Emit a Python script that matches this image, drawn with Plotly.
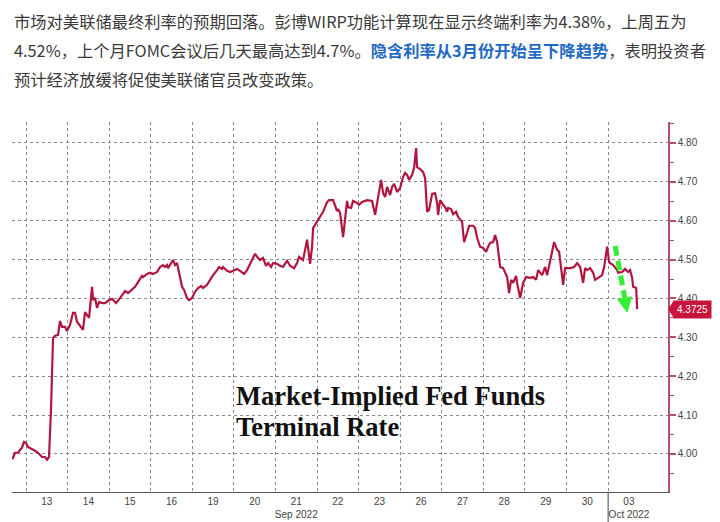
import plotly.graph_objects as go

# ---- data -------------------------------------------------------------
# trading-day position (0 = start of Sep 13 session, weekends removed)
t = [-0.337, -0.313, -0.265, -0.192, -0.144, -0.096, -0.048, 0.000, 0.048, 0.144,
     0.217, 0.289, 0.385, 0.457, 0.505, 0.553, 0.601, 0.650, 0.698, 0.770,
     0.818, 0.866, 0.938, 0.986, 1.058, 1.131, 1.179, 1.227, 1.299, 1.371,
     1.419, 1.467, 1.516, 1.588, 1.612, 1.660, 1.708, 1.756, 1.828, 1.900,
     1.973, 2.069, 2.165, 2.261, 2.382, 2.454, 2.550, 2.622, 2.694, 2.790,
     2.815, 2.911, 2.983, 3.055, 3.151, 3.223, 3.296, 3.344, 3.392, 3.416,
     3.536, 3.584, 3.632, 3.705, 3.753, 3.801, 3.873, 3.921, 3.993, 4.065,
     4.138, 4.210, 4.258, 4.354, 4.426, 4.498, 4.595, 4.643, 4.715, 4.739,
     4.835, 4.907, 4.980, 5.076, 5.148, 5.244, 5.316, 5.437, 5.509, 5.557,
     5.629, 5.701, 5.773, 5.821, 5.894, 5.942, 6.038, 6.110, 6.182, 6.279,
     6.351, 6.447, 6.519, 6.567, 6.663, 6.712, 6.760, 6.832, 6.880, 6.904,
     6.976, 7.048, 7.145, 7.241, 7.289, 7.385, 7.433, 7.481, 7.505, 7.553,
     7.626, 7.674, 7.722, 7.746, 7.818, 7.866, 7.962, 8.011, 8.083, 8.203,
     8.323, 8.396, 8.444, 8.516, 8.540, 8.588, 8.636, 8.684, 8.708, 8.756,
     8.804, 8.853, 8.925, 8.997, 9.069, 9.117, 9.165, 9.213, 9.286, 9.334,
     9.382, 9.406, 9.478, 9.550, 9.598, 9.646, 9.694, 9.767, 9.839, 9.887,
     9.911, 9.959, 10.031, 10.079, 10.127, 10.152, 10.224, 10.272, 10.344, 10.392,
     10.488, 10.536, 10.609, 10.657, 10.753, 10.801, 10.849, 10.921, 10.994, 11.066,
     11.114, 11.162, 11.234, 11.282, 11.330, 11.403, 11.475, 11.571, 11.619, 11.667,
     11.715, 11.787, 11.811, 11.884, 11.956, 12.028, 12.124, 12.196, 12.268, 12.317,
     12.413, 12.485, 12.533, 12.629, 12.701, 12.774, 12.822, 12.918, 12.966, 13.086,
     13.183, 13.255, 13.327, 13.399, 13.447, 13.495, 13.567, 13.640, 13.688, 13.760,
     13.856, 13.904, 13.976, 14.024, 14.049, 14.121, 14.217, 14.241, 14.337, 14.409,
     14.481, 14.529, 14.578, 14.602, 14.674, 14.698]

rate = [3.987, 3.990, 4.003, 4.003, 4.010, 4.016, 4.031, 4.028, 4.018, 4.013,
        4.008, 4.003, 3.992, 3.992, 3.985, 3.992, 4.113, 4.298, 4.304, 4.306,
        4.342, 4.327, 4.327, 4.316, 4.332, 4.363, 4.363, 4.340, 4.329, 4.319,
        4.365, 4.358, 4.350, 4.430, 4.396, 4.401, 4.376, 4.391, 4.388, 4.388,
        4.394, 4.399, 4.388, 4.401, 4.419, 4.414, 4.422, 4.430, 4.442, 4.458,
        4.455, 4.463, 4.466, 4.463, 4.468, 4.481, 4.486, 4.481, 4.486, 4.478,
        4.499, 4.486, 4.491, 4.455, 4.430, 4.422, 4.401, 4.396, 4.401, 4.417,
        4.427, 4.432, 4.427, 4.435, 4.448, 4.460, 4.473, 4.481, 4.476, 4.481,
        4.471, 4.468, 4.471, 4.476, 4.471, 4.463, 4.473, 4.499, 4.515, 4.507,
        4.499, 4.504, 4.484, 4.491, 4.481, 4.491, 4.489, 4.484, 4.481, 4.497,
        4.484, 4.478, 4.491, 4.507, 4.499, 4.525, 4.551, 4.489, 4.533, 4.581,
        4.594, 4.605, 4.623, 4.648, 4.653, 4.653, 4.641, 4.625, 4.630, 4.620,
        4.558, 4.615, 4.651, 4.635, 4.633, 4.651, 4.646, 4.641, 4.648, 4.653,
        4.651, 4.615, 4.646, 4.687, 4.705, 4.671, 4.661, 4.687, 4.679, 4.666,
        4.687, 4.695, 4.674, 4.684, 4.713, 4.723, 4.718, 4.705, 4.718, 4.736,
        4.787, 4.738, 4.733, 4.725, 4.710, 4.623, 4.628, 4.669, 4.671, 4.646,
        4.615, 4.653, 4.641, 4.635, 4.623, 4.633, 4.630, 4.617, 4.623, 4.610,
        4.597, 4.545, 4.569, 4.587, 4.587, 4.581, 4.556, 4.533, 4.530, 4.520,
        4.533, 4.543, 4.545, 4.563, 4.545, 4.481, 4.478, 4.455, 4.414, 4.448,
        4.440, 4.458, 4.440, 4.401, 4.440, 4.455, 4.453, 4.455, 4.448, 4.473,
        4.460, 4.481, 4.460, 4.507, 4.545, 4.525, 4.520, 4.435, 4.478, 4.478,
        4.481, 4.491, 4.481, 4.440, 4.478, 4.473, 4.478, 4.466, 4.448, 4.453,
        4.460, 4.481, 4.533, 4.494, 4.491, 4.486, 4.473, 4.466, 4.468, 4.476,
        4.468, 4.473, 4.453, 4.430, 4.427, 4.3725]

day_labels = ["13", "14", "15", "16", "19", "20", "21", "22", "23", "26",
              "27", "28", "29", "30", "03"]
month_labels = {"21": "Sep 2022", "03": "Oct 2022"}
y_ticks = [4.00, 4.10, 4.20, 4.30, 4.40, 4.50, 4.60, 4.70, 4.80]
last_value = 4.3725

title_lines = [
    "市场对美联储最终利率的预期回落。彭博WIRP功能计算现在显示终端利率为4.38%，上周五为",
    "4.52%，上个月FOMC会议后几天最高达到4.7%。<b><span style='color:#1f68c4'>隐含利率从3月份开始呈下降趋势</span></b>，表明投资者",
    "预计经济放缓将促使美联储官员改变政策。",
]
chart_label = ["Market-Implied Fed Funds", "Terminal Rate"]

# ---- figure -----------------------------------------------------------
LINE = "#b0163e"
AXIS = "#b4506e"
W, H = 720, 522
ML, MR, MT, MB = 12, 52, 122, 30
PH = H - MT - MB

fig = go.Figure()
fig.add_trace(go.Scatter(x=t, y=rate, mode="lines",
                         line=dict(color=LINE, width=2.2), hoverinfo="skip"))

tickvals = [i + 0.5 for i in range(len(day_labels))]
ticktext = [d + ("<br>" + month_labels[d] if d in month_labels else "") for d in day_labels]

fig.update_layout(
    width=W, height=H,
    margin=dict(l=ML, r=MR, t=MT, b=MB),
    paper_bgcolor="white", plot_bgcolor="white",
    showlegend=False,
    font=dict(family="Liberation Sans", size=10, color="#444"),
    xaxis=dict(
        range=[-0.337, 15.44], tickmode="array", tickvals=tickvals, ticktext=ticktext,
        showgrid=False, zeroline=False, showline=True, linecolor="#555", linewidth=1,
        ticks="", ticklen=0, automargin=False,
        tickfont=dict(family="Liberation Sans", size=10, color="#444"),
        minor=dict(tickmode="array", tickvals=list(range(len(day_labels))),
                   showgrid=True, gridcolor="#8a8a8a", griddash="dot", gridwidth=1,
                   ticks=""),
        fixedrange=True,
    ),
    yaxis=dict(
        side="right", range=[3.902, 4.854], tickmode="array", tickvals=y_ticks,
        ticktext=[f"{v:.2f}" for v in y_ticks], automargin=False,
        showgrid=True, gridcolor="#8a8a8a", griddash="dot", gridwidth=1,
        zeroline=False, showline=True, linecolor=AXIS, linewidth=1.5,
        ticks="outside", ticklen=6, tickwidth=2, tickcolor=AXIS,
        tickfont=dict(family="Liberation Sans", size=10, color="#444"),
        minor=dict(tickmode="array",
                   tickvals=[round(v + 0.05, 2) for v in [3.90] + y_ticks],
                   ticks="outside", ticklen=4, tickwidth=1, tickcolor=AXIS, showgrid=False),
        fixedrange=True,
    ),
)

# Oct separator below the axis
fig.add_shape(type="line", xref="x", yref="paper", x0=14, x1=14, y0=0, y1=-MB / PH,
              line=dict(color="#444", width=1))

# last value tag
fig.add_annotation(x=1, xref="paper", y=last_value, yref="y", xanchor="left", yanchor="middle",
                   xshift=5, text=f"{last_value:.4f}", showarrow=False,
                   bgcolor="#c8143c", borderpad=3,
                   font=dict(family="Liberation Sans", size=10, color="white"))
fig.add_shape(type="path", xref="paper", yref="y", xsizemode="pixel", ysizemode="pixel",
              xanchor=1, yanchor=last_value, path="M 0,0 L 6,9 L 6,-9 Z",
              fillcolor="#c8143c", line=dict(width=0))

# chart label
for i, txt in enumerate(chart_label):
    py = 396 + i * 31
    fig.add_annotation(x=(234 - ML) / (W - ML - MR), xref="paper", xanchor="left",
                       y=(H - MB - py) / PH, yref="paper", yanchor="middle",
                       text=f"<b>{txt}</b>", showarrow=False,
                       font=dict(family="Liberation Serif", size=26.5, color="#111"))

# green dashed arrow
fig.add_shape(type="line", xref="x", yref="y", x0=14.169, y0=4.535, x1=14.40, y1=4.401,
              line=dict(color="#33ee33", width=5, dash="10px,5px"))
fig.add_shape(type="path", xref="x", yref="y",
              path="M 14.231,4.3975 L 14.563,4.404 L 14.457,4.365 Z",
              fillcolor="#33ee33", line=dict(color="#33ee33", width=1))

# header text
for i, line in enumerate(title_lines):
    py = 21 + i * 29
    fig.add_annotation(x=0, xref="paper", xanchor="left", xshift=0,
                       y=(H - MB - py) / PH, yref="paper", yanchor="middle",
                       text=line, showarrow=False, align="left",
                       font=dict(family="Noto Sans CJK SC", size=16.3, color="#3a3a3a"))

fig.write_html("out.html")
